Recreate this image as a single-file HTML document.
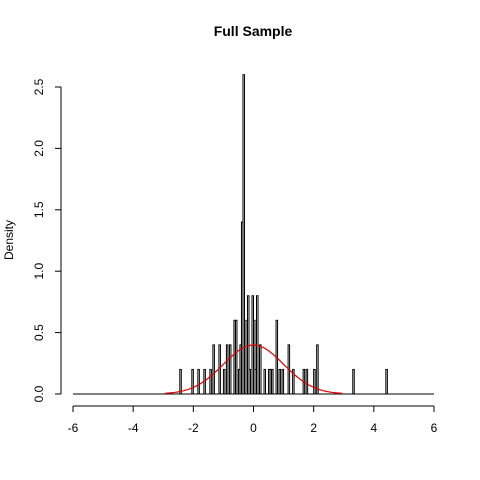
<!DOCTYPE html>
<html><head><meta charset="utf-8"><style>body{margin:0;background:#fff}svg{display:block}</style></head>
<body>
<svg width="480" height="480" xmlns="http://www.w3.org/2000/svg" font-family="Liberation Sans, sans-serif">
<text x="253" y="36" text-anchor="middle" font-weight="bold" font-size="14">Full Sample</text>
<text transform="translate(13,240) rotate(-90)" text-anchor="middle" font-size="12">Density</text>
<g id="plot"></g>
</svg>
<script>
const binStarts=[-2.45,-2.05,-1.85,-1.65,-1.45,-1.35,-1.15,-1.0,-0.9,-0.8,-0.65,-0.6,-0.5,-0.45,-0.4,-0.35,-0.25,-0.2,-0.15,-0.05,0.0,0.05,0.1,0.2,0.35,0.5,0.55,0.6,0.75,0.85,0.95,1.15,1.3,1.65,1.75,2.0,2.1,3.3,4.4];
const densities=[0.2,0.2,0.2,0.2,0.2,0.4,0.4,0.2,0.4,0.4,0.6,0.6,0.2,0.4,1.4,2.6,0.6,0.8,0.2,0.8,0.6,0.2,0.8,0.4,0.2,0.2,0.2,0.2,0.6,0.2,0.2,0.4,0.2,0.2,0.2,0.2,0.4,0.2,0.2];
const binWidth=0.05;
const xTicks=[-6,-4,-2,0,2,4,6];
const yTicks=[0,0.5,1,1.5,2,2.5];
const X=v=>253.5+v*30.08, Y=v=>394-v*122.8;
const g=document.getElementById('plot'),NS='http://www.w3.org/2000/svg';
function mk(t,a){const e=document.createElementNS(NS,t);for(const k in a)e.setAttribute(k,a[k]);g.appendChild(e);return e;}
let e=mk('line',{x1:X(-6),x2:X(6),y1:394,y2:394,stroke:'#000'});


binStarts.forEach((b,i)=>{const r=mk('rect',{x:X(b),y:Y(densities[i]),width:X(b+binWidth)-X(b),height:394-Y(densities[i]),fill:'none',stroke:'#000','stroke-width':1});

});
let pts=[];for(let v=-2.95;v<=2.95;v+=0.05)pts.push(X(v)+','+Y(Math.exp(-v*v/2)/Math.sqrt(2*Math.PI)));
e=mk('polyline',{points:pts.join(' '),fill:'none',stroke:'#e00000','stroke-width':1.2});


e=mk('line',{x1:X(-6),x2:X(6),y1:406,y2:406,stroke:'#000'});


xTicks.forEach(t=>{mk('line',{x1:X(t),x2:X(t),y1:406,y2:412,stroke:'#000'});
const l=mk('text',{x:X(t),y:432,'text-anchor':'middle','font-size':12});l.textContent=t;

});
e=mk('line',{x1:61,x2:61,y1:Y(0),y2:Y(2.5),stroke:'#000'});


yTicks.forEach(t=>{mk('line',{x1:55,x2:61,y1:Y(t),y2:Y(t),stroke:'#000'});
const l=mk('text',{transform:`translate(43,${Y(t)}) rotate(-90)`,'text-anchor':'middle','font-size':12});l.textContent=t.toFixed(1);

});
</script>
</body></html>
